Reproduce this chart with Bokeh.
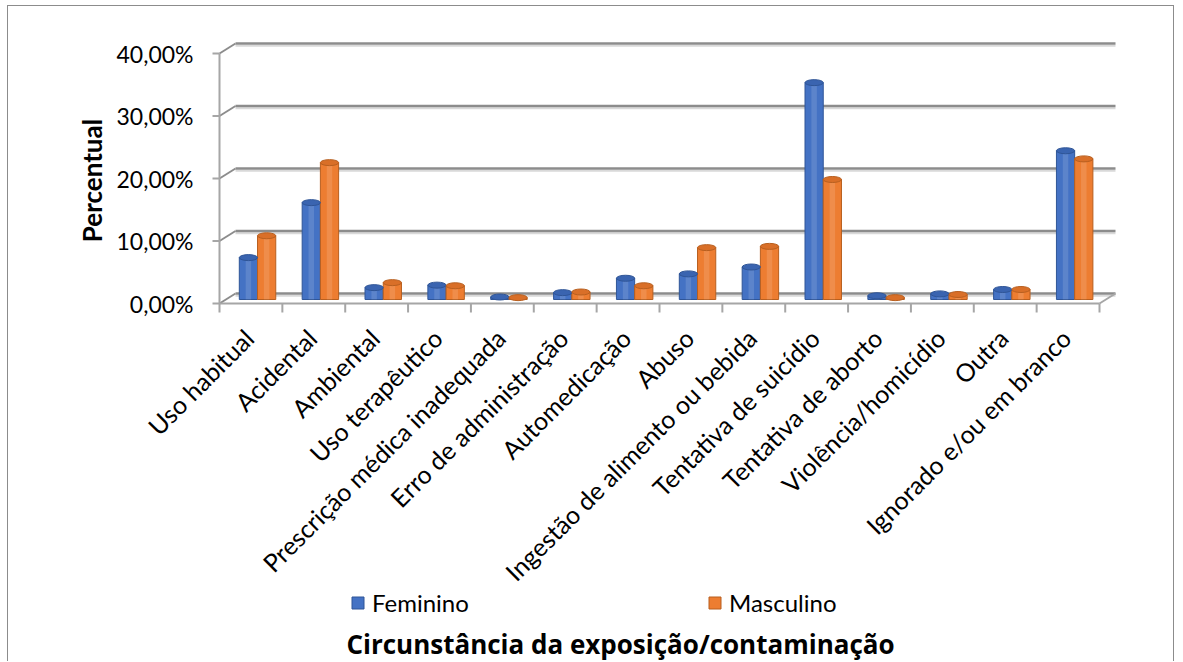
import math
from bokeh.plotting import figure
from bokeh.models import Range1d, Legend, LegendItem, ColumnDataSource
from bokeh.core.properties import value
from bokeh.transform import dodge
from bokeh.embed import file_html
from bokeh.resources import INLINE

categories = ["Uso habitual", "Acidental", "Ambiental", "Uso terapêutico",
              "Prescrição médica inadequada", "Erro de administração", "Automedicação",
              "Abuso", "Ingestão de alimento ou bebida", "Tentativa de suicídio",
              "Tentativa de aborto", "Violência/homicídio", "Outra", "Ignorado e/ou em branco"]
feminino = [6.7, 15.5, 1.9, 2.3, 0.4, 1.1, 3.4, 4.1, 5.2, 34.7, 0.6, 0.9, 1.6, 23.8]
masculino = [10.2, 21.9, 2.7, 2.2, 0.3, 1.2, 2.2, 8.3, 8.5, 19.2, 0.3, 0.8, 1.6, 22.5]
y_ticks = [0, 10, 20, 30, 40]
y_labels = [f"{t:.2f}".replace(".", ",") + "%" for t in y_ticks]

FONT = "Lato"
BLUE, BLUE_D = "#4472C4", "#2f5597"
ORANGE, ORANGE_D = "#ED7D31", "#b85f1f"
GRID = "#8c8c8c"
AXIS = "#a6a6a6"

n = len(categories)
W_PX, H_PX = 1167, 656            # canvas size
PX_X = 880 / n                    # pixels per category
PX_Y = 6.25                       # pixels per percent
X0_PX, Y0_PX = 211, 297           # canvas position of the origin
DX, DY = 16 / PX_X, 10 / PX_Y     # 3-D depth offset of the back wall

p = figure(width=W_PX, height=H_PX, output_backend="svg", toolbar_location=None,
           x_range=Range1d(-X0_PX / PX_X, (W_PX - X0_PX) / PX_X),
           y_range=Range1d(-(H_PX - Y0_PX) / PX_Y, Y0_PX / PX_Y))
p.min_border = 0
p.styles = {"margin-left": "7px", "margin-top": "5px",
            "border-top": "1px solid #8c8c8c", "border-left": "1px solid #8c8c8c",
            "border-right": "1px solid #8c8c8c"}
p.outline_line_color = None
p.xaxis.visible = False
p.yaxis.visible = False
p.xgrid.visible = False
p.ygrid.visible = False

k = len(y_ticks)
# side wall connectors and back wall gridlines
p.segment(x0=[0.0] * k, y0=y_ticks, x1=[DX] * k, y1=[t + DY for t in y_ticks], line_color=GRID, line_width=2)
p.segment(x0=[DX] * k, y0=[t + DY - 0.35 for t in y_ticks], x1=[n + DX] * k,
          y1=[t + DY - 0.35 for t in y_ticks], line_color="#d9d9d9", line_width=2)
p.segment(x0=[DX] * k, y0=[t + DY for t in y_ticks], x1=[n + DX] * k, y1=[t + DY for t in y_ticks],
          line_color=GRID, line_width=2.5)
p.segment(x0=[n], y0=[0], x1=[n + DX], y1=[DY], line_color=AXIS, line_width=2)

# y axis (front edge), ticks, labels
p.segment(x0=[0], y0=[y_ticks[0]], x1=[0], y1=[y_ticks[-1]], line_color=AXIS, line_width=2)
p.segment(x0=[-7 / PX_X] * k, y0=y_ticks, x1=[0] * k, y1=y_ticks, line_color=AXIS, line_width=2)
p.text(x=[-26 / PX_X] * k, y=y_ticks, text=y_labels, text_align="right", text_baseline="middle",
       text_font=value(FONT), text_font_size=value("23px"), text_color="#000000")
p.text(x=[-128 / PX_X], y=[(303 - 180) / PX_Y], text=["Percentual"], angle=math.pi / 2,
       text_align="center", text_baseline="middle", text_font=value(FONT),
       text_font_style=value("bold"), text_font_size=value("26px"), text_color="#000000")

# bars (drawn at mid depth)
idx = list(range(n))
src = ColumnDataSource(dict(
    xf=[i + 0.46 for i in idx], xm=[i + 0.75 for i in idx],
    f=feminino, m=masculino,
))
W = 0.29
B = DY * 0.4
rf = p.vbar(x="xf", top=dodge("f", B), bottom=B, width=W, source=src,
            fill_color=BLUE, line_color=BLUE_D, line_width=1)
rm = p.vbar(x="xm", top=dodge("m", B), bottom=B, width=W, source=src,
            fill_color=ORANGE, line_color=ORANGE_D, line_width=1)
p.vbar(x="xf", top=dodge("f", B), bottom=B, width=W * 0.3, source=src, fill_color="white", fill_alpha=0.13, line_color=None)
p.vbar(x="xm", top=dodge("m", B), bottom=B, width=W * 0.3, source=src, fill_color="white", fill_alpha=0.13, line_color=None)
p.ellipse(x="xf", y=dodge("f", B), width=W, height=6, height_units="screen", source=src,
          fill_color="#3a64b0", line_color=BLUE_D, line_width=1)
p.ellipse(x="xm", y=dodge("m", B), width=W, height=6, height_units="screen", source=src,
          fill_color="#d96f28", line_color=ORANGE_D, line_width=1)

# x axis (front edge of the floor), boundary ticks, category labels
p.segment(x0=[0], y0=[0], x1=[n], y1=[0], line_color=AXIS, line_width=2)
p.segment(x0=list(range(n + 1)), y0=[0] * (n + 1), x1=list(range(n + 1)), y1=[-9 / PX_Y] * (n + 1),
          line_color=AXIS, line_width=2)
p.text(x=[i + 0.5 - 2 / PX_X for i in idx], y=[-30 / PX_Y] * n, text=categories, angle=math.pi / 4,
       text_align="right", text_baseline="middle", text_font=value(FONT),
       text_font_size=value("25px"), text_color="#000000")

legend = Legend(items=[LegendItem(label="Feminino", renderers=[rf]),
                       LegendItem(label="Masculino", renderers=[rm])],
                orientation="horizontal", location=(342, 45),
                glyph_width=15, glyph_height=15, label_standoff=7, label_width=332, spacing=3,
                padding=0, margin=0, border_line_color=None, background_fill_alpha=0,
                label_text_font=FONT, label_text_font_size="24px", label_text_color="#000000")
p.add_layout(legend)

p.text(x=[(620 - 219) / PX_X], y=[-(643 - 303) / PX_Y], text=["Circunstância da exposição/contaminação"],
       text_align="center", text_baseline="middle", text_font=value("Open Sans"),
       text_font_style=value("bold"), text_font_size=value("26px"), text_color="#000000")

open("out.html", "w").write(file_html(p, INLINE))
